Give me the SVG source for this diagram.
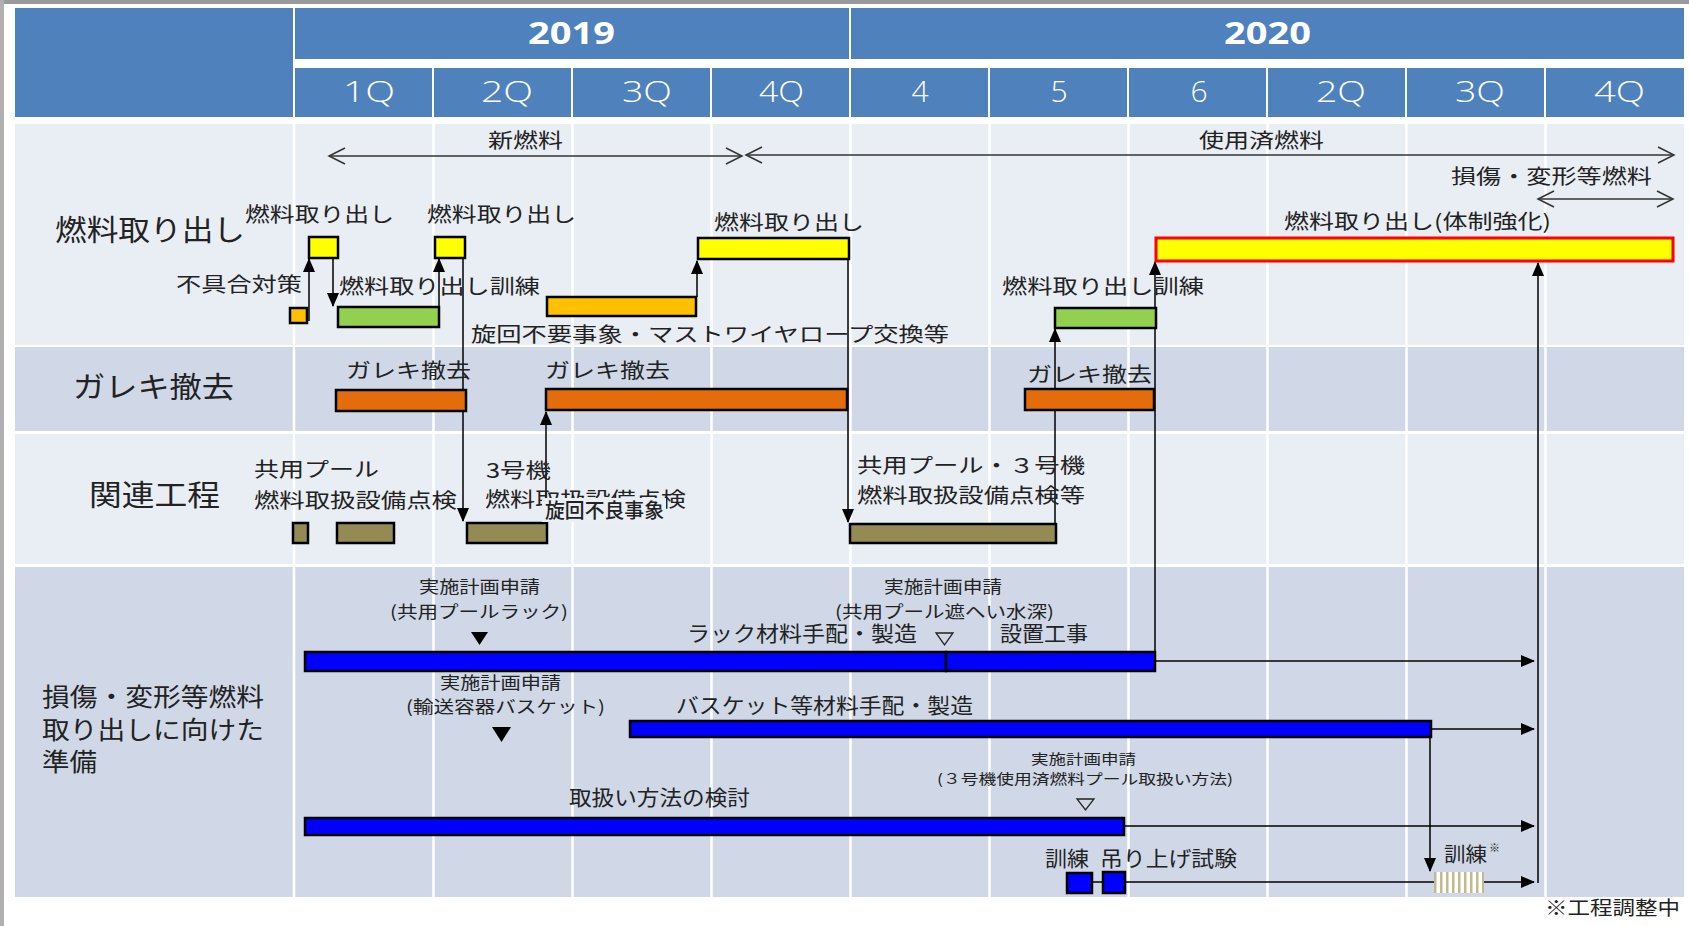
<svg xmlns="http://www.w3.org/2000/svg" width="1689" height="926" viewBox="0 0 1689 926">
<style>
.hdr{fill:#4f81bd}
.lt{fill:#e9edf4}
.dk{fill:#d0d8e8}
.grid{stroke:#fff;stroke-width:2.5}
.bar{stroke:#000;stroke-width:2.5}
.y{fill:#ffff00}.amb{fill:#ffc000}.gr{fill:#92d050}.or{fill:#e46c0a}.ol{fill:#948a54}.bl{fill:#0000ff}
.ln{stroke:#000;stroke-width:1.5;fill:none}
.dbl{stroke:#333;stroke-width:1.5;fill:none}
text{font-family:"Noto Sans CJK JP","Noto Sans",sans-serif;fill:#222}
.yr{font-family:"Noto Sans","Liberation Sans",sans-serif;font-weight:bold;font-size:31px;fill:#fff}
.q{font-family:"Open Sans","Noto Sans",sans-serif;font-weight:300;font-size:30px;fill:#fff}
.big{font-size:29px}
.f20{font-size:20px}
.f21{font-size:21px}
.f17{font-size:17px}
.f14{font-size:14px}
.f26{font-size:25px}
.f19{font-size:19px}
</style>
<defs>
<marker id="ah" markerUnits="userSpaceOnUse" markerWidth="14" markerHeight="12" refX="13" refY="6" orient="auto"><path d="M0,0 L14,6 L0,12 z" fill="#000"/></marker>
<marker id="ch" markerUnits="userSpaceOnUse" markerWidth="20" markerHeight="20" refX="17" refY="9" orient="auto-start-reverse"><path d="M1,1 L17,9 L1,17" fill="none" stroke="#333" stroke-width="1.5"/></marker>
<pattern id="hatch" patternUnits="userSpaceOnUse" width="6" height="10"><rect width="6" height="10" fill="#fff"/><rect width="2.5" height="10" fill="#c4b98a"/></pattern>
</defs>
<rect width="1689" height="926" fill="#fff"/>
<rect x="0" y="0" width="1689" height="4" fill="#9a9a9a"/>
<rect x="0" y="0" width="4" height="926" fill="#b0b0b0"/>

<g id="header">
<rect class="hdr" x="15" y="8" width="278" height="109"/>
<rect class="hdr" x="295" y="8" width="554" height="51"/>
<rect class="hdr" x="851" y="8" width="833" height="51"/>
<text class="yr" x="528" y="44" textLength="87" lengthAdjust="spacingAndGlyphs">2019</text>
<text class="yr" x="1224" y="44" textLength="87" lengthAdjust="spacingAndGlyphs">2020</text>
<rect class="hdr" x="295" y="68" width="137" height="49"/>
<rect class="hdr" x="434" y="68" width="137" height="49"/>
<rect class="hdr" x="573" y="68" width="137" height="49"/>
<rect class="hdr" x="712" y="68" width="137" height="49"/>
<rect class="hdr" x="851" y="68" width="137" height="49"/>
<rect class="hdr" x="990" y="68" width="137" height="49"/>
<rect class="hdr" x="1129" y="68" width="137" height="49"/>
<rect class="hdr" x="1268" y="68" width="137" height="49"/>
<rect class="hdr" x="1407" y="68" width="137" height="49"/>
<rect class="hdr" x="1546" y="68" width="138" height="49"/>
<text class="q" x="343" y="102" textLength="52" lengthAdjust="spacingAndGlyphs">1Q</text>
<text class="q" x="481" y="102" textLength="52" lengthAdjust="spacingAndGlyphs">2Q</text>
<text class="q" x="622" y="102" textLength="50" lengthAdjust="spacingAndGlyphs">3Q</text>
<text class="q" x="759" y="102" textLength="45" lengthAdjust="spacingAndGlyphs">4Q</text>
<text class="q" x="920" y="102" text-anchor="middle">4</text>
<text class="q" x="1059" y="102" text-anchor="middle">5</text>
<text class="q" x="1199" y="102" text-anchor="middle">6</text>
<text class="q" x="1316" y="102" textLength="50" lengthAdjust="spacingAndGlyphs">2Q</text>
<text class="q" x="1455" y="102" textLength="50" lengthAdjust="spacingAndGlyphs">3Q</text>
<text class="q" x="1594" y="102" textLength="51" lengthAdjust="spacingAndGlyphs">4Q</text>
</g>

<g id="rows">
<rect class="lt" x="15" y="124" width="1669" height="221"/>
<rect class="dk" x="15" y="347" width="1669" height="84"/>
<rect class="lt" x="15" y="434" width="1669" height="130"/>
<rect class="dk" x="15" y="567" width="1669" height="330"/>
<g class="grid">
<line x1="294" y1="123" x2="294" y2="897"/>
<line x1="433.5" y1="123" x2="433.5" y2="897"/>
<line x1="572.5" y1="123" x2="572.5" y2="897"/>
<line x1="711.5" y1="123" x2="711.5" y2="897"/>
<line x1="850.5" y1="123" x2="850.5" y2="897"/>
<line x1="989.5" y1="123" x2="989.5" y2="897"/>
<line x1="1128.5" y1="123" x2="1128.5" y2="897"/>
<line x1="1267.5" y1="123" x2="1267.5" y2="897"/>
<line x1="1406.5" y1="123" x2="1406.5" y2="897"/>
<line x1="1545.5" y1="123" x2="1545.5" y2="897"/>
</g>
</g>

<g id="row-labels">
<text class="big" x="55" y="241" textLength="190" lengthAdjust="spacingAndGlyphs">燃料取り出し</text>
<text class="big" x="73" y="398" textLength="161" lengthAdjust="spacingAndGlyphs">ガレキ撤去</text>
<text class="big" x="89" y="506" textLength="131" lengthAdjust="spacingAndGlyphs">関連工程</text>
<text class="f26" x="42" y="706" textLength="222" lengthAdjust="spacingAndGlyphs">損傷・変形等燃料</text>
<text class="f26" x="42" y="739" textLength="222" lengthAdjust="spacingAndGlyphs">取り出しに向けた</text>
<text class="f26" x="42" y="771" textLength="55" lengthAdjust="spacingAndGlyphs">準備</text>
</g>

<g id="period-labels">
<text class="f20" x="488" y="148" textLength="75" lengthAdjust="spacingAndGlyphs">新燃料</text>
<text class="f20" x="1199" y="148" textLength="125" lengthAdjust="spacingAndGlyphs">使用済燃料</text>
<text class="f20" x="1451" y="184" textLength="201" lengthAdjust="spacingAndGlyphs">損傷・変形等燃料</text>
</g>

<g id="connectors">
<path class="dbl" d="M329,156 H742" marker-start="url(#ch)" marker-end="url(#ch)"/>
<path class="dbl" d="M746,155 H1674" marker-start="url(#ch)" marker-end="url(#ch)"/>
<path class="dbl" d="M1538,199 H1673" marker-start="url(#ch)" marker-end="url(#ch)"/>
<path class="ln" d="M309,321 V259" marker-end="url(#ah)"/>
<path class="ln" d="M333,259 V306" marker-end="url(#ah)"/>
<path class="ln" d="M439,307 V259" marker-end="url(#ah)"/>
<path class="ln" d="M463,259 V521" marker-end="url(#ah)"/>
<path class="ln" d="M697,297 V261" marker-end="url(#ah)"/>
<path class="ln" d="M848,260 V522" marker-end="url(#ah)"/>
<path class="ln" d="M546,523 V412" marker-end="url(#ah)"/>
<path class="ln" d="M1055,524 V329" marker-end="url(#ah)"/>
<path class="ln" d="M1155,652 V262" marker-end="url(#ah)"/>
<path class="ln" d="M1538,883 V263" marker-end="url(#ah)"/>
<path class="ln" d="M1155,661 H1534" marker-end="url(#ah)"/>
<path class="ln" d="M1431,729 H1534" marker-end="url(#ah)"/>
<path class="ln" d="M1124,826 H1534" marker-end="url(#ah)"/>
<path class="ln" d="M1092,882 H1103 M1125,882 H1434"/>
<path class="ln" d="M1484,882 H1534" marker-end="url(#ah)"/>
<path class="ln" d="M1430,738 V871" marker-end="url(#ah)"/>
</g>

<g id="fuel-1">
<rect class="bar y" x="309" y="237" width="29" height="21"/>
<text class="f20" x="245" y="222" textLength="149" lengthAdjust="spacingAndGlyphs">燃料取り出し</text>
</g>
<g id="fuel-2">
<rect class="bar y" x="435" y="237" width="30" height="21"/>
<text class="f20" x="427" y="222" textLength="149" lengthAdjust="spacingAndGlyphs">燃料取り出し</text>
</g>
<g id="fix">
<rect class="bar amb" x="290" y="308" width="17" height="15"/>
<text class="f20" x="176" y="292" textLength="126" lengthAdjust="spacingAndGlyphs">不具合対策</text>
</g>
<g id="train-1">
<rect class="bar gr" x="338" y="307" width="101" height="20"/>
<text class="f20" x="339" y="294" textLength="201" lengthAdjust="spacingAndGlyphs">燃料取り出し訓練</text>
</g>
<g id="mast">
<rect class="bar amb" x="547" y="297" width="149" height="19"/>
<text class="f20" x="471" y="342" textLength="478" lengthAdjust="spacingAndGlyphs">旋回不要事象・マストワイヤロープ交換等</text>
</g>
<g id="fuel-3">
<rect class="bar y" x="698" y="238" width="151" height="21"/>
<text class="f20" x="714" y="230" textLength="150" lengthAdjust="spacingAndGlyphs">燃料取り出し</text>
</g>
<g id="train-2">
<rect class="bar gr" x="1055" y="308" width="101" height="20"/>
<text class="f20" x="1002" y="294" textLength="202" lengthAdjust="spacingAndGlyphs">燃料取り出し訓練</text>
</g>
<g id="fuel-strong">
<rect x="1156" y="238" width="517" height="23" fill="#ffff00" stroke="#ff0000" stroke-width="3"/>
<text class="f20" x="1284" y="229" textLength="267" lengthAdjust="spacingAndGlyphs">燃料取り出し(体制強化)</text>
</g>

<g id="rubble-1">
<rect class="bar or" x="336" y="390" width="130" height="21"/>
<text class="f20" x="346" y="378" textLength="125" lengthAdjust="spacingAndGlyphs">ガレキ撤去</text>
</g>
<g id="rubble-2">
<rect class="bar or" x="546" y="389" width="301" height="21"/>
<text class="f20" x="545" y="378" textLength="125" lengthAdjust="spacingAndGlyphs">ガレキ撤去</text>
</g>
<g id="rubble-3">
<rect class="bar or" x="1025" y="389" width="129" height="21"/>
<text class="f20" x="1027" y="382" textLength="125" lengthAdjust="spacingAndGlyphs">ガレキ撤去</text>
</g>

<g id="rel-1">
<rect class="bar ol" x="293" y="523" width="15" height="20"/>
<rect class="bar ol" x="337" y="523" width="57" height="20"/>
<text class="f20" x="254" y="477" textLength="125" lengthAdjust="spacingAndGlyphs">共用プール</text>
<text class="f20" x="254" y="508" textLength="203" lengthAdjust="spacingAndGlyphs">燃料取扱設備点検</text>
</g>
<g id="rel-2">
<rect class="bar ol" x="467" y="523" width="80" height="20"/>
<text class="f20" x="486" y="478" textLength="65" lengthAdjust="spacingAndGlyphs">3号機</text>
<text class="f20" x="485" y="507" textLength="201" lengthAdjust="spacingAndGlyphs">燃料取扱設備点検</text>
</g>
<g id="rel-note">
<rect x="542" y="498" width="124" height="24" fill="#eaeef5"/>
<text x="545" y="518" font-size="20" font-weight="500" textLength="119" lengthAdjust="spacingAndGlyphs" fill="#000">旋回不良事象</text>
</g>
<g id="rel-3">
<rect class="bar ol" x="850" y="524" width="206" height="19"/>
<text class="f20" x="857" y="473" textLength="228" lengthAdjust="spacingAndGlyphs">共用プール・３号機</text>
<text class="f20" x="857" y="503" textLength="228" lengthAdjust="spacingAndGlyphs">燃料取扱設備点検等</text>
</g>

<g id="rack">
<rect class="bar bl" x="305" y="652" width="641" height="19"/>
<rect class="bar bl" x="946" y="652" width="209" height="19"/>
<text class="f17" x="419" y="593" textLength="121" lengthAdjust="spacingAndGlyphs">実施計画申請</text>
<text class="f17" x="390" y="618" textLength="178" lengthAdjust="spacingAndGlyphs">(共用プールラック)</text>
<polygon points="471,632 488,632 479.5,645" fill="#000"/>
<text class="f21" x="687" y="641" textLength="230" lengthAdjust="spacingAndGlyphs">ラック材料手配・製造</text>
<text class="f17" x="884" y="593" textLength="118" lengthAdjust="spacingAndGlyphs">実施計画申請</text>
<text class="f17" x="835" y="618" textLength="219" lengthAdjust="spacingAndGlyphs">(共用プール遮へい水深)</text>
<polygon points="936,633 953,633 944.5,645" fill="none" stroke="#222" stroke-width="1.3"/>
<text class="f21" x="1000" y="641" textLength="88" lengthAdjust="spacingAndGlyphs">設置工事</text>
</g>
<g id="basket">
<rect class="bar bl" x="630" y="721" width="801" height="16"/>
<text class="f17" x="440" y="689" textLength="121" lengthAdjust="spacingAndGlyphs">実施計画申請</text>
<text class="f17" x="406" y="713" textLength="199" lengthAdjust="spacingAndGlyphs">(輸送容器バスケット)</text>
<polygon points="492,727 511,727 501.5,742" fill="#000"/>
<text class="f21" x="676" y="713" textLength="297" lengthAdjust="spacingAndGlyphs">バスケット等材料手配・製造</text>
</g>
<g id="method">
<rect class="bar bl" x="305" y="818" width="819" height="17"/>
<text class="f21" x="569" y="805" textLength="181" lengthAdjust="spacingAndGlyphs">取扱い方法の検討</text>
<text class="f14" x="1031" y="764" textLength="105" lengthAdjust="spacingAndGlyphs">実施計画申請</text>
<text class="f14" x="937" y="784" textLength="296" lengthAdjust="spacingAndGlyphs">(３号機使用済燃料プール取扱い方法)</text>
<polygon points="1077,799 1094,799 1085.5,810" fill="none" stroke="#222" stroke-width="1.3"/>
</g>
<g id="train-3">
<rect class="bar bl" x="1067" y="873" width="25" height="20"/>
<text class="f21" x="1045" y="866" textLength="44" lengthAdjust="spacingAndGlyphs">訓練</text>
</g>
<g id="lift-test">
<rect class="bar bl" x="1103" y="872" width="22" height="21"/>
<text class="f21" x="1100" y="866" textLength="137" lengthAdjust="spacingAndGlyphs">吊り上げ試験</text>
</g>
<g id="train-4">
<rect x="1434" y="872" width="50" height="21" fill="url(#hatch)"/>
<text class="f20" x="1444" y="862" textLength="43" lengthAdjust="spacingAndGlyphs">訓練</text>
<text x="1489" y="852" font-size="11">※</text>
</g>
<g id="note">
<text class="f19" x="1545" y="915" textLength="135" lengthAdjust="spacingAndGlyphs">※工程調整中</text>
</g>
</svg>
